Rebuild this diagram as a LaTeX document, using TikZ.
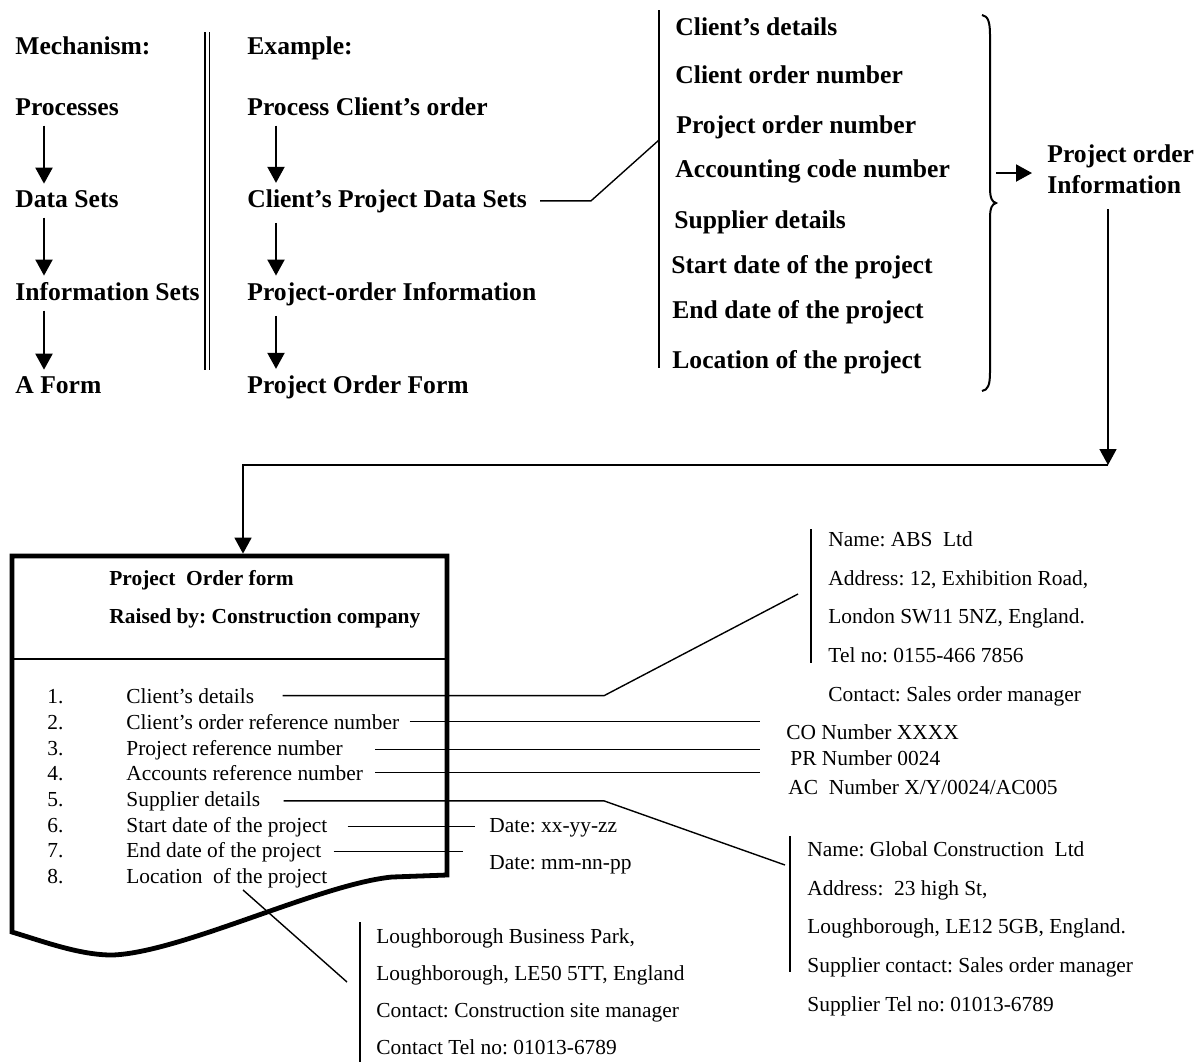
\documentclass[tikz,border=0pt]{standalone}
\usepackage{fontspec}
\setmainfont{Liberation Serif}
\usetikzlibrary{arrows.meta}
\frenchspacing

\tikzset{
	big/.style={font=\bfseries\fontsize{12.8}{15.5}\selectfont, anchor=base west, inner sep=0pt},
	small/.style={font=\bfseries\fontsize{10.7}{13}\selectfont, anchor=base west, inner sep=0pt},
	entry/.style={font=\fontsize{10.7}{13}\selectfont, anchor=base west, inner sep=0pt},
	block/.style={font=\fontsize{10.7}{19.3}\selectfont, anchor=north west, inner sep=0pt, align=left},
	flow/.style={-{Triangle[length=8pt,width=8.5pt]}, line width=1pt, shorten <=5pt, shorten >=3pt},
	link/.style={line width=0.7pt},
	bar/.style={line width=1.1pt},
	thinbar/.style={line width=0.6pt}
}

\begin{document}
	\begin{tikzpicture}[x=0.5pt, y=-0.5pt]
		\path[fill=white] (0,0) rectangle (1202,1061);
		\useasboundingbox (0,0) rectangle (1202,1061);

		\node[big](mech) at (15,54){Mechanism:};
		\node[big](proc) at (15,115){Processes};
		\node[big](dset) at (15,207){Data Sets};
		\node[big](iset) at (15,300){Information Sets};
		\node[big](aform) at (15,393){A Form};
		\coordinate (lx) at (44,0);
		\draw[flow] (proc.south -| lx) -- (dset.north -| lx);
		\draw[flow] (dset.south -| lx) -- (iset.north -| lx);
		\draw[flow] (iset.south -| lx) -- (aform.north -| lx);

		\draw[double, double distance=1.5pt, line width=0.6pt] (207,32) -- (207,370);

		\node[big](ex) at (247,54){Example:};
		\node[big](pco) at (247,115){Process Client's order};
		\node[big](cpds) at (247,207){Client's Project Data Sets};
		\node[big](poinf) at (247,300){Project-order Information};
		\node[big](pof) at (247,393){Project Order Form};
		\coordinate (mx) at (276,0);
		\draw[flow] (pco.south -| mx) -- (cpds.north -| mx);
		\draw[flow] (cpds.south -| mx) -- (poinf.north -| mx);
		\draw[flow] (poinf.south -| mx) -- (pof.north -| mx);

		\draw[bar] (659,10) -- (659,368);
		\coordinate (kinkA) at (591,0);
		\coordinate (barhit) at (659,140);
		\draw[link] ([xshift=6.5pt]cpds.east) -- (cpds.east -| kinkA) -- (barhit);

		\node[big](cdt) at (675,35){Client's details};
		\node[big](con) at (675,83){Client order number};
		\node[big](pon) at (676,133){Project order number};
		\node[big](acn) at (675,177){Accounting code number};
		\node[big](sdt) at (674,228){Supplier details};
		\node[big](stp) at (671,273){Start date of the project};
		\node[big](enp) at (672,318){End date of the project};
		\node[big](lcp) at (672,368){Location of the project};

		\draw[line width=1pt] (982,15) .. controls (988,16) and (990,22) .. (990,35) -- (990,188) .. controls (990,198) and (992,202) .. (996,203) .. controls (992,204) and (990,208) .. (990,218) -- (990,372) .. controls (990,385) and (988,390) .. (982,391);

		\node[big, anchor=north west, align=left](poi) at (1047,144.3){Project order\\Information};
		\coordinate (bracetip) at (996,173);
		\draw[flow, shorten <=0pt, shorten >=7.5pt] (bracetip) -- (bracetip -| poi.west);

		\coordinate (drop) at (1108,465);
		\coordinate (formtop) at (243,556);
		\draw[flow, line width=0.8pt, shorten <=7.5pt, shorten >=0pt] (poi.south -| drop) -- (drop);
		\draw[flow, line width=0.8pt, shorten <=0pt, shorten >=1.2pt] (drop) -- (drop -| formtop) -- (formtop);

		% the order form
		\draw[line width=2.4pt] (447,875) -- (447,556) -- (12,556) -- (12,932) .. controls (45,942) and (80,955) .. (112,955) .. controls (180,953) and (320,884) .. (392,877) -- cycle;
		\draw[line width=0.9pt] (12,659) -- (447,659);
		\node[small](ftitle) at (109,585){Project~ Order form};
		\node[small](fraised) at (109,623){Raised by: Construction company};

		\node[entry](n1) at (47,703){1.};
		\node[entry](n2) at (47,729){2.};
		\node[entry](n3) at (47,755){3.};
		\node[entry](n4) at (47,780){4.};
		\node[entry](n5) at (47,806){5.};
		\node[entry](n6) at (47,832){6.};
		\node[entry](n7) at (47,857){7.};
		\node[entry](n8) at (47,883){8.};
		\node[entry](cd) at (126,703){Client's details};
		\node[entry](cor) at (126,729){Client's order reference number};
		\node[entry](prn) at (126,755){Project reference number};
		\node[entry](arn) at (126,780){Accounts reference number};
		\node[entry](sd) at (126,806){Supplier details};
		\node[entry](sdp) at (126,832){Start date of the project};
		\node[entry](edp) at (126,857){End date of the project};
		\node[entry](lop) at (126,883){Location~ of the project};

		\node[entry](dt1) at (489,832){Date: xx-yy-zz};
		\node[entry](dt2) at (489,869){Date: mm-nn-pp};
		\node[entry](co) at (786,739){CO Number XXXX};
		\node[entry](pr) at (790,765){PR Number 0024};
		\node[entry](ac) at (788,794){AC~ Number X/Y/0024/AC005};

		\node[block](abs) at (828,531.4){Name: ABS~ Ltd\\Address: 12, Exhibition Road,\\London SW11 5NZ, England.\\Tel no: 0155-466 7856\\Contact: Sales order manager};
		\draw[thinbar] ([xshift=-8.5pt]abs.north west) ++(0,-2) -- ++(0,134);
		\node[block](glb) at (807,841.4){Name: Global Construction~ Ltd\\Address:~ 23 high St,\\Loughborough, LE12 5GB, England.\\Supplier contact: Sales order manager\\Supplier Tel no: 01013-6789};
		\draw[thinbar] ([xshift=-8.5pt]glb.north west) ++(0,-5) -- ++(0,136);
		\node[block, font=\fontsize{10.7}{18.5}\selectfont](loc) at (376,928.4){Loughborough Business Park,\\Loughborough, LE50 5TT, England\\Contact: Construction site manager\\Contact Tel no: 01013-6789};
		\draw[thinbar] ([xshift=-8pt]loc.north west) ++(0,-6) -- ++(0,140);

		\coordinate (kinkB) at (604,0);
		\coordinate (numx) at (760,0);
		\coordinate (absend) at (798,594);
		\coordinate (glbend) at (785,865);
		\coordinate (locend) at (347,982);
		\draw[link] ([xshift=14pt]cd.east) -- (cd.east -| kinkB) -- (absend);
		\draw[link] ([xshift=5pt]cor.east) -- (cor.east -| numx);
		\draw[link] ([xshift=16pt]prn.east) -- (prn.east -| numx);
		\draw[link] ([xshift=6pt]arn.east) -- (arn.east -| numx);
		\draw[link] ([xshift=11.5pt]sd.east) -- (sd.east -| kinkB) -- (glbend);
		\draw[link] ([xshift=10pt]sdp.east) -- ([xshift=-7pt]sdp.east -| dt1.west);
		\draw[link] ([xshift=6pt]edp.east) -- ([xshift=-13pt]edp.east -| dt2.west);
		\draw[link] ([xshift=58.5pt,yshift=-1pt]lop.south west) -- (locend);
	\end{tikzpicture}
\end{document}
